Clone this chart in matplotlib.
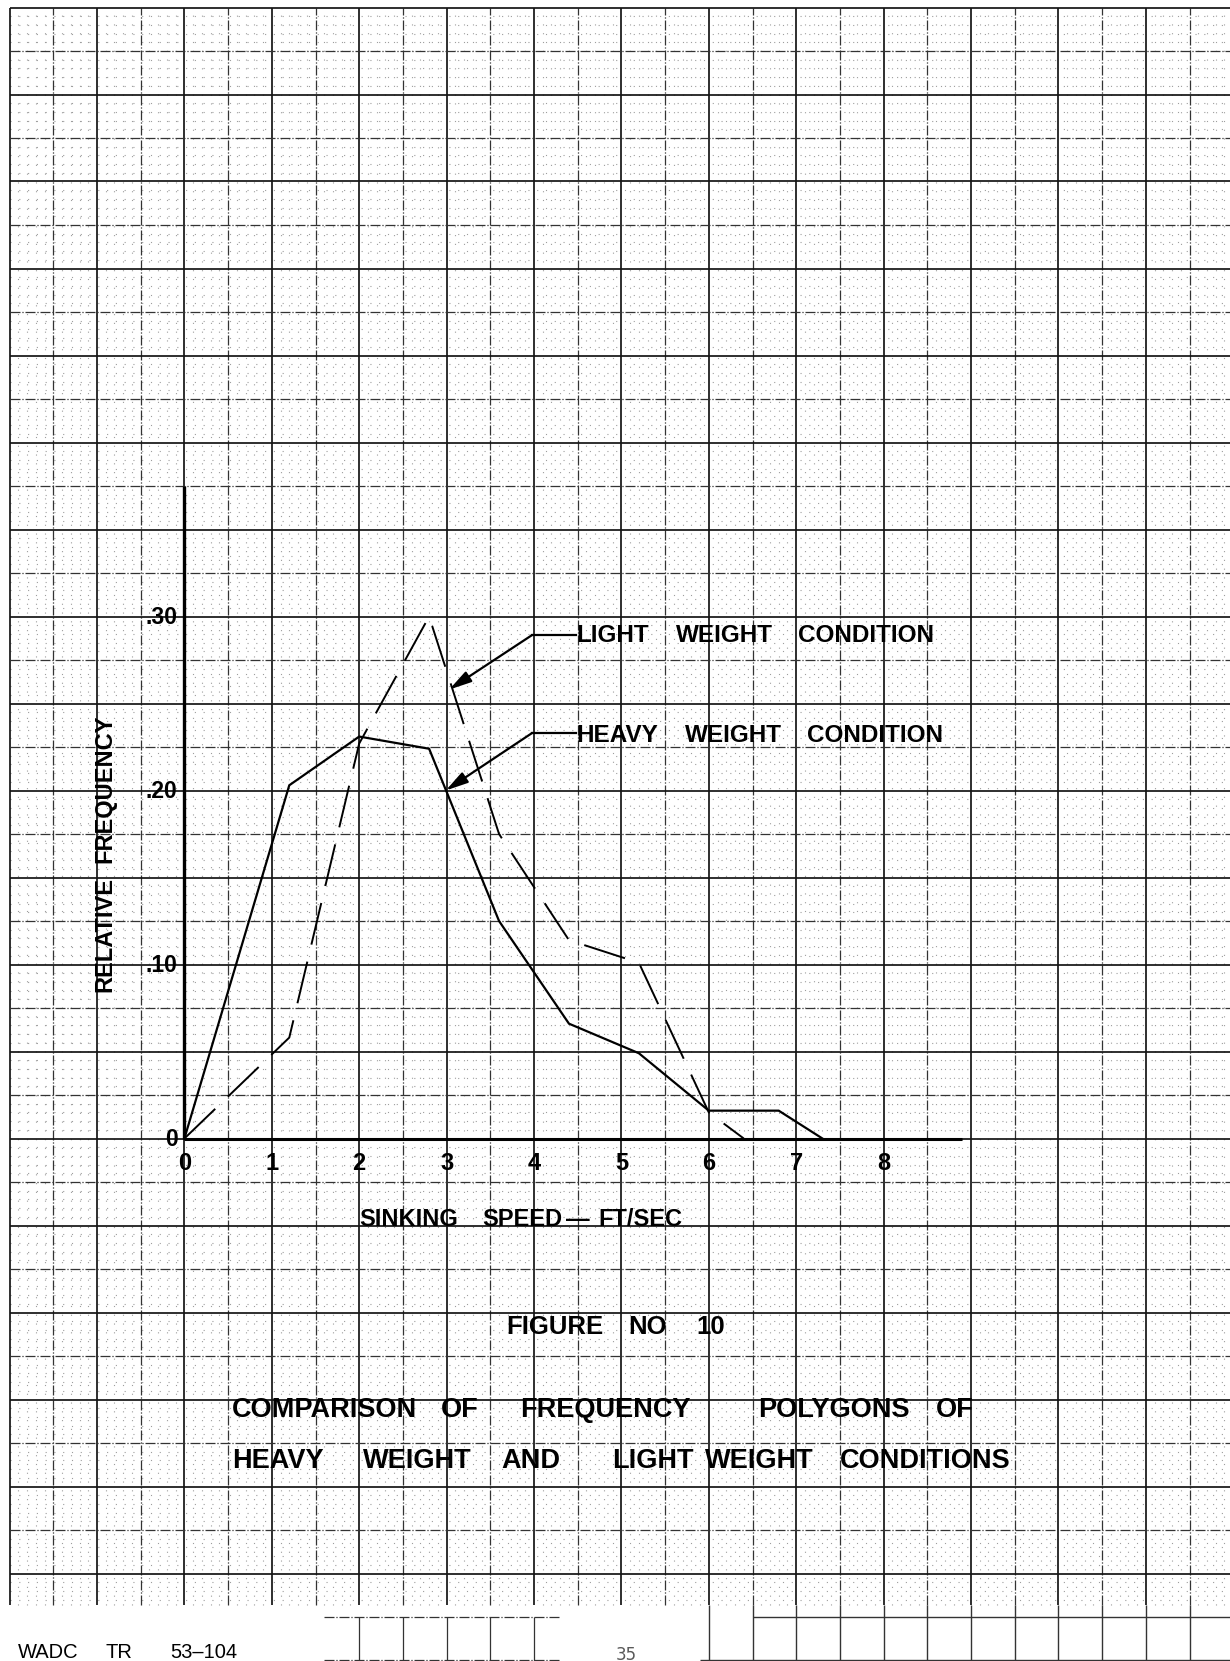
import numpy as np
import matplotlib.pyplot as plt

# Relative frequency of sinking speed (ft/sec), heavy and light weight landings
heavy_speed = [0, 1.2, 2.0, 2.8, 3.6, 4.4, 5.2, 6.0, 6.8, 7.3]
heavy_freq = [0, 0.203, 0.231, 0.224, 0.125, 0.066, 0.049, 0.016, 0.016, 0]
light_speed = [0, 1.2, 2.0, 2.8, 3.6, 4.4, 5.2, 6.0, 6.4]
light_freq = [0, 0.058, 0.227, 0.300, 0.175, 0.114, 0.101, 0.015, 0]

x_ticks = [0, 1, 2, 3, 4, 5, 6, 7, 8]
y_ticks = [0, 0.10, 0.20, 0.30]
y_tick_labels = ['0', '.10', '.20', '.30']

# where the label arrows point
light_tip = (3.03, 0.258)
heavy_tip = (2.99, 0.200)

# page size and where the origin sits on the sheet (pixels)
W, H = 1230, 1661
X0, Y0 = 184.4, 1138.5
SX, SY = 87.4, 1740.0   # pixels per ft/sec, pixels per unit frequency

FONT = 'Liberation Sans'

fig = plt.figure(figsize=(W / 100, H / 100), dpi=100)
ax = fig.add_axes([0, 0, 1, 1])
ax.set_xlim(-X0 / SX, (W - X0) / SX)
ax.set_ylim((Y0 - H) / SY, Y0 / SY)
ax.axis('off')

# ---- graph paper ----
gx0, gx1 = -2.0, (W - X0) / SX
gy0, gy1 = -0.268, 0.65
dots = [(0, (1.0, 6.9))]

minor_x = [x for x in np.round(np.arange(gx0, gx1, 0.1), 2) if abs(x * 2 - round(x * 2)) > 1e-6]
minor_y = [y for y in np.round(np.arange(-0.265, gy1, 0.005), 3) if abs(y * 40 - round(y * 40)) > 1e-6]
ax.vlines(minor_x, gy0, gy1, colors='0.62', linewidth=0.8, linestyles=dots, zorder=1)
ax.hlines(minor_y, gx0, gx1, colors='0.62', linewidth=0.8, linestyles=dots, zorder=1)

half_x = np.round(np.arange(gx0, gx1, 0.5), 2)
heavy_x = [x for x in half_x if float(x).is_integer()]
light_x = [x for x in half_x if not float(x).is_integer()]
ax.vlines(heavy_x, gy0, gy1, colors='0.08', linewidth=1.25, zorder=2)
ax.vlines(light_x, gy0, gy1, colors='0.2', linewidth=0.9,
          linestyles=[(0, (8, 1.5, 1, 1.5))], zorder=2)

quarter_y = np.round(np.arange(-0.25, gy1 + 0.001, 0.025), 3)
heavy_y = [y for y in quarter_y if abs(y * 20 - round(y * 20)) < 1e-6]
light_y = [y for y in quarter_y if abs(y * 20 - round(y * 20)) > 1e-6]
ax.hlines(heavy_y, gx0, gx1, colors='0.08', linewidth=1.25, zorder=2)
ax.hlines(light_y, gx0, gx1, colors='0.2', linewidth=0.9,
          linestyles=[(0, (8, 1.5, 1, 1.5))], zorder=2)

# paper strip running off the bottom edge on the right, and the patch near the page number
bottom = (Y0 - H) / SY
ax.vlines([x for x in half_x if x >= 6.0], gy0, bottom, colors='0.2', linewidth=1.0, zorder=2)
ax.hlines([-0.275], 6.5, gx1, colors='0.2', linewidth=1.0, zorder=2)
ax.hlines([bottom + 0.0006], 5.9, gx1, colors='0.2', linewidth=1.0, zorder=2)
ax.vlines([2.0, 2.5, 3.0, 3.5, 4.0], -0.275, bottom, colors='0.2', linewidth=0.9, zorder=2)
ax.hlines([-0.275, bottom + 0.0006], 1.6, 4.3, colors='0.2', linewidth=0.9,
          linestyles=[(0, (8, 1.5, 1, 1.5))], zorder=2)

# ---- axes ----
ax.plot([0, 0], [0, 0.375], color='black', lw=2.4, solid_capstyle='butt', zorder=4)
ax.plot([0, 8.9], [0, 0], color='black', lw=2.2, solid_capstyle='butt', zorder=4)

for k in x_ticks:
    ax.annotate(str(k), xy=(k, 0), xytext=(0, -22.7), textcoords='offset points',
                ha='center', va='baseline', fontsize=17, fontweight='bold', family=FONT)
for v, lab in zip(y_ticks, y_tick_labels):
    ax.annotate(lab, xy=(0, v), xytext=(-5.0, -5.5), textcoords='offset points',
                ha='right', va='baseline', fontsize=16.5, fontweight='bold', family=FONT)

# ---- frequency polygons ----
ax.plot(heavy_speed, heavy_freq, color='black', lw=1.6, solid_joinstyle='miter', zorder=5)
ax.plot(light_speed, light_freq, color='black', lw=1.4, linestyle=(0, (22, 9)), zorder=5)

# leader lines with arrow heads
for tip, (xs, ys) in [(light_tip, (3.98, 0.2894)), (heavy_tip, (3.98, 0.2331))]:
    ax.plot([xs, 4.48], [ys, ys], color='black', lw=1.6, zorder=5)
    ax.annotate('', xy=tip, xytext=(xs, ys),
                arrowprops=dict(arrowstyle='-|>,head_length=0.75,head_width=0.2',
                                color='black', lw=1.6, shrinkA=0, shrinkB=0,
                                mutation_scale=18), zorder=6)


def words(items, y, size, weight='bold', color='black', family=FONT):
    # lay a row of hand-lettered words out on the sheet, left edges in pixels
    for word, left in items:
        fig.text(left / W, 1 - y / H, word, ha='left', va='baseline', fontsize=size,
                 fontweight=weight, color=color, family=family)


words([('LIGHT', 576), ('WEIGHT', 676), ('CONDITION', 798)], 642, 17.5)
words([('HEAVY', 576), ('WEIGHT', 685), ('CONDITION', 807)], 742, 17.5)
words([('SINKING', 359), ('SPEED', 482), ('\u2014', 566), ('FT/SEC', 598)], 1226, 17)

for word, yc in [('FREQUENCY', 789), ('RELATIVE', 935)]:
    fig.text(105 / W, 1 - yc / H, word, rotation=90, ha='center', va='center',
             fontsize=17, fontweight='bold', family=FONT)

words([('FIGURE', 506), ('NO', 628), ('10', 696)], 1334, 18.5)
words([('COMPARISON', 232), ('OF', 441), ('FREQUENCY', 520), ('POLYGONS', 758), ('OF', 936)],
      1417, 19.5)
words([('HEAVY', 232), ('WEIGHT', 363), ('AND', 501), ('LIGHT', 612), ('WEIGHT', 705),
       ('CONDITIONS', 840)], 1468, 19.5)

words([('WADC', 18), ('TR', 105), ('53\u2013104', 170)], 1658, 14.5, weight='normal')
words([('35', 616)], 1660, 12, weight='normal', color='0.35', family='DejaVu Sans')

fig.savefig('out.png', dpi=100, facecolor='white')
